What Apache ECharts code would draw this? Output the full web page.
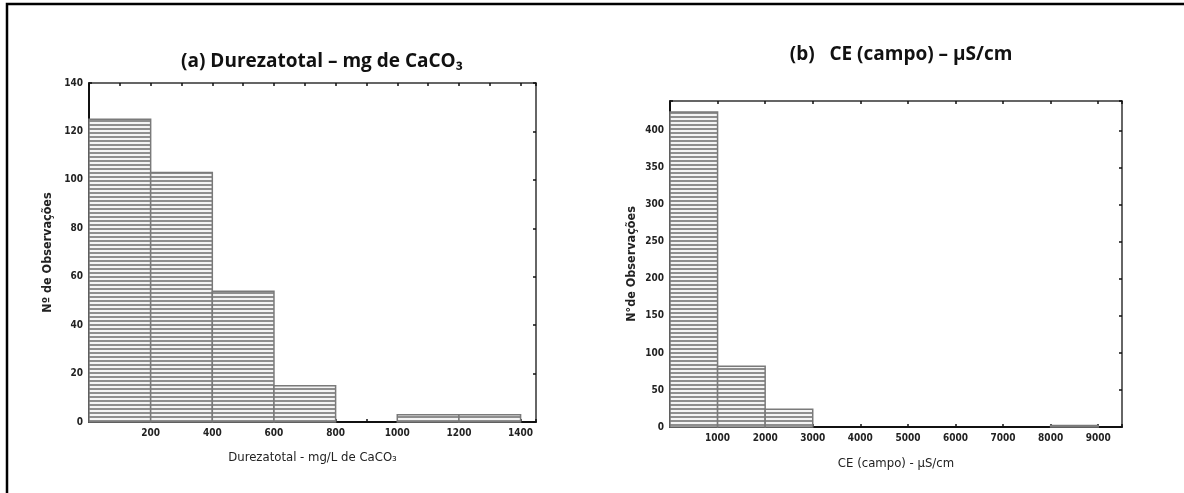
<!DOCTYPE html>
<html>
<head>
<meta charset="utf-8">
<style>
  html, body { margin: 0; padding: 0; background: #fff; }
  #main { width: 1184px; height: 493px; }
</style>
<script src="https://cdn.jsdelivr.net/npm/echarts@6/dist/echarts.min.js"></script>
</head>
<body>
<div id="main"></div>
<script>
// histogram (a): dureza total
const binsA = [0, 200, 400, 600, 800, 1000, 1200, 1400];
const countsA = [125, 103, 54, 15, 0, 3, 3];
const xLabelsA = [200, 400, 600, 800, 1000, 1200, 1400];
const yLabelsA = [0, 20, 40, 60, 80, 100, 120, 140];

// histogram (b): CE (campo)
const binsB = [0, 1000, 2000, 3000, 4000, 5000, 6000, 7000, 8000, 9000];
const countsB = [425, 82, 24, 0, 0, 0, 0, 0, 2];
const xLabelsB = [1000, 2000, 3000, 4000, 5000, 6000, 7000, 8000, 9000];
const yLabelsB = [0, 50, 100, 150, 200, 250, 300, 350, 400];

(function () {
  let myChart = echarts.init(document.getElementById("main"));

  // listras horizontais das barras
  let c = document.createElement("canvas");
  c.width = 4;
  c.height = 4;
  let g = c.getContext("2d");
  g.fillStyle = "#f4f4f4";
  g.fillRect(0, 0, 4, 4);
  g.fillStyle = "#8e8e8e";
  g.fillRect(0, 0, 4, 2);
  let stripes = { image: c, repeat: "repeat" };

  const tickFont = "'Liberation Sans Narrow', 'DejaVu Sans Condensed', sans-serif";

  function toData(bins, counts) {
    let d = [];
    for (let i = 0; i < counts.length; i++) {
      if (counts[i] > 0) d.push([bins[i], bins[i + 1], counts[i]]);
    }
    return d;
  }

  function renderBin(params, api) {
    let p0 = api.coord([api.value(0), api.value(2)]);
    let p1 = api.coord([api.value(1), 0]);
    return {
      type: "rect",
      shape: { x: p0[0], y: p0[1], width: p1[0] - p0[0], height: p1[1] - p0[1] },
      style: { fill: stripes, stroke: "#7a7a7a", lineWidth: 1.5 },
    };
  }

  function xAxis(grid, max, interval, labels, name, gap, top) {
    return {
      type: "value",
      gridIndex: grid,
      position: top ? "top" : "bottom",
      min: 0,
      max: max,
      interval: interval,
      name: top ? "" : name,
      nameLocation: "middle",
      nameGap: gap,
      nameTextStyle: { color: "#222", fontSize: 13, fontFamily: tickFont },
      splitLine: { show: false },
      axisLine: { show: true, onZero: false, lineStyle: { color: top ? "#333" : "#111", width: top ? 1.5 : 2 } },
      axisTick: { show: true, inside: true, length: 3, lineStyle: { color: "#111", width: 1.5 } },
      axisLabel: {
        show: !top,
        color: "#222",
        fontSize: 10,
        fontWeight: "bold",
        fontFamily: tickFont,
        margin: 6,
        formatter: function (v) {
          return labels.indexOf(v) >= 0 ? String(v) : "";
        },
      },
    };
  }

  function yAxis(grid, max, interval, labels, name, gap, right) {
    return {
      type: "value",
      gridIndex: grid,
      position: right ? "right" : "left",
      min: 0,
      max: max,
      interval: interval,
      name: right ? "" : name,
      nameLocation: "middle",
      nameRotate: 90,
      nameGap: gap,
      nameTextStyle: { color: "#222", fontSize: 12.5, fontWeight: "bold", fontFamily: tickFont },
      splitLine: { show: false },
      axisLine: { show: true, onZero: false, lineStyle: { color: right ? "#333" : "#111", width: right ? 1.5 : 2 } },
      axisTick: { show: true, inside: true, length: 3, lineStyle: { color: "#111", width: 1.5 } },
      axisLabel: {
        show: !right,
        color: "#222",
        fontSize: 10,
        fontWeight: "bold",
        fontFamily: tickFont,
        margin: 6,
        formatter: function (v) {
          return labels.indexOf(v) >= 0 ? String(v) : "";
        },
      },
    };
  }

  let option = {
    animation: false,
    grid: [
      { left: 89, top: 83, width: 447, height: 339 },
      { left: 670, top: 101, width: 452, height: 326 },
    ],
    xAxis: [
      xAxis(0, 1450, 100, xLabelsA, "Durezatotal - mg/L de CaCO₃", 29, false),
      xAxis(0, 1450, 100, xLabelsA, "", 0, true),
      xAxis(1, 9500, 1000, xLabelsB, "CE (campo) - µS/cm", 30, false),
      xAxis(1, 9500, 1000, xLabelsB, "", 0, true),
    ],
    yAxis: [
      yAxis(0, 140, 20, yLabelsA, "Nº de Observações", 35, false),
      yAxis(0, 140, 20, yLabelsA, "", 0, true),
      yAxis(1, 440, 50, yLabelsB, "N°de Observações", 32, false),
      yAxis(1, 440, 50, yLabelsB, "", 0, true),
    ],
    series: [
      {
        type: "custom",
        xAxisIndex: 0,
        yAxisIndex: 0,
        renderItem: renderBin,
        encode: { x: [0, 1], y: 2 },
        data: toData(binsA, countsA),
      },
      {
        type: "custom",
        xAxisIndex: 2,
        yAxisIndex: 2,
        renderItem: renderBin,
        encode: { x: [0, 1], y: 2 },
        data: toData(binsB, countsB),
      },
    ],
    graphic: [
      {
        type: "rect",
        shape: { x: 7, y: 4, width: 1200, height: 520 },
        style: { fill: "none", stroke: "#000", lineWidth: 2.5 },
        silent: true,
      },
      {
        type: "text",
        x: 322,
        y: 62,
        style: {
          text: "(a) Durezatotal – mg de CaCO₃",
          align: "center",
          verticalAlign: "middle",
          font: "bold 19px 'Open Sans', sans-serif",
          fill: "#111",
        },
      },
      {
        type: "text",
        x: 901,
        y: 55,
        style: {
          text: "(b)   CE (campo) – µS/cm",
          align: "center",
          verticalAlign: "middle",
          font: "bold 19px 'Open Sans', sans-serif",
          fill: "#111",
        },
      },
    ],
  };

  myChart.setOption(option);
  window.addEventListener("resize", function () {
    myChart.resize();
  });
})();
</script>
</body>
</html>
